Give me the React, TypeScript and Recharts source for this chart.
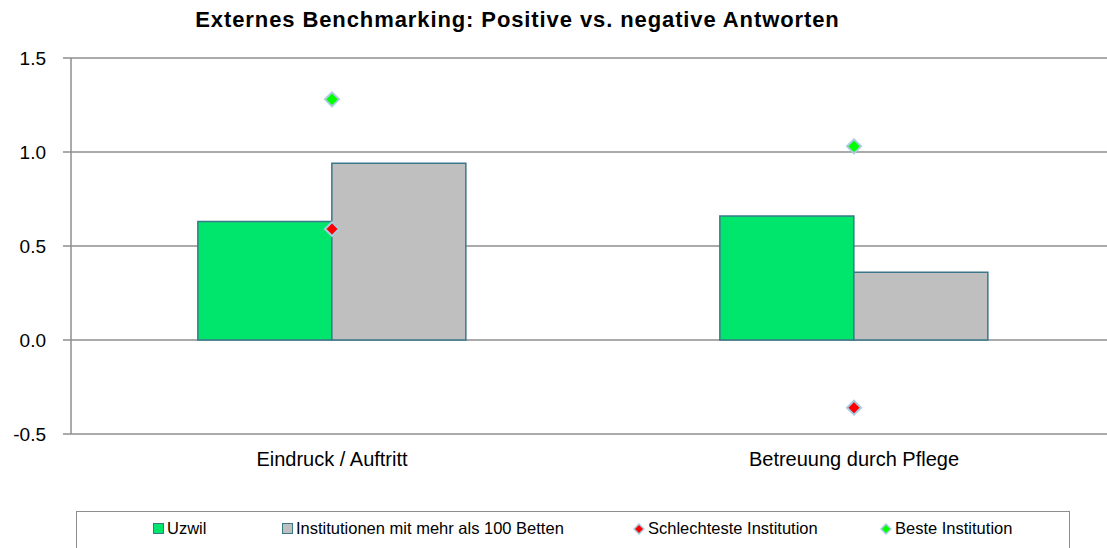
import {
  ComposedChart,
  Bar,
  Scatter,
  XAxis,
  YAxis,
  CartesianGrid,
  ReferenceLine,
} from 'recharts';

const categories = ['Eindruck / Auftritt', 'Betreuung durch Pflege'];
const uzwil = [0.63, 0.66];
const institutionen = [0.94, 0.36];
const schlechteste = [0.59, -0.36];
const beste = [1.28, 1.03];
const yTicks = [-0.5, 0, 0.5, 1.0, 1.5];

const data = categories.map((name, i) => ({
  name,
  uzwil: uzwil[i],
  institutionen: institutionen[i],
  schlechteste: schlechteste[i],
  beste: beste[i],
}));

const FONT = "'Liberation Sans', Arial, sans-serif";
const GRID = '#8e8e8e';
const BAR_STROKE = '#3a7889';

const Diamond = (props: any) => {
  const { cx, cy, fill } = props;
  if (cx == null || cy == null) return null;
  const r = 7;
  return (
    <polygon
      points={`${cx},${cy - r} ${cx + r},${cy} ${cx},${cy + r} ${cx - r},${cy}`}
      fill={fill}
      stroke="#a9cbe0"
      strokeWidth={2}
    />
  );
};

const legendItems = [
  { label: 'Uzwil', color: '#00e56b', kind: 'square', left: 76 },
  { label: 'Institutionen mit mehr als 100 Betten', color: '#bfbfbf', kind: 'square', left: 205 },
  { label: 'Schlechteste Institution', color: '#ff0000', kind: 'diamond', left: 556 },
  { label: 'Beste Institution', color: '#00ff00', kind: 'diamond', left: 803 },
];

export default function App() {
  return (
    <div
      style={{
        position: 'absolute',
        left: 0,
        top: 0,
        width: 1107,
        height: 548,
        overflow: 'hidden',
        background: '#fff',
        fontFamily: FONT,
      }}
    >
      {/* title */}
      <div
        style={{
          position: 'absolute',
          top: 7,
          left: 0,
          width: 1035,
          textAlign: 'center',
          fontWeight: 'bold',
          fontSize: 22,
          letterSpacing: 0.9,
          color: '#000',
        }}
      >
        Externes Benchmarking: Positive vs. negative Antworten
      </div>

      <div style={{ position: 'absolute', left: 0, top: 0 }}>
        <ComposedChart
          width={1160}
          height={480}
          data={data}
          margin={{ top: 58, right: 45, bottom: 0, left: 0 }}
          barCategoryGap="24.3%"
          barGap={0}
        >
          <CartesianGrid vertical={false} stroke={GRID} strokeWidth={1.5} />
          <XAxis
            dataKey="name"
            height={46}
            axisLine={false}
            tickLine={false}
            tickSize={0}
            tickMargin={18}
            tick={{ fill: '#000', fontSize: 20, fontFamily: FONT }}
          />
          <XAxis xAxisId="num" type="number" domain={[0, 2]} hide />
          <YAxis
            width={71}
            domain={[-0.5, 1.5]}
            ticks={yTicks}
            interval={0}
            tickFormatter={(v: number) => v.toFixed(1)}
            axisLine={{ stroke: GRID, strokeWidth: 1.5 }}
            tickLine={{ stroke: GRID, strokeWidth: 1.5 }}
            tickSize={8}
            tickMargin={17}
            tick={{ fill: '#000', fontSize: 19, fontFamily: FONT }}
          />
          <ReferenceLine
            xAxisId="num"
            segment={[
              { x: 1, y: 0 },
              { x: 1, y: -0.045 },
            ]}
            stroke={GRID}
            strokeWidth={2}
          />
          <Bar
            dataKey="uzwil"
            fill="#00e56b"
            stroke={BAR_STROKE}
            strokeWidth={1.5}
            isAnimationActive={false}
          />
          <Bar
            dataKey="institutionen"
            fill="#bfbfbf"
            stroke={BAR_STROKE}
            strokeWidth={1.5}
            isAnimationActive={false}
          />
          <Scatter
            dataKey="schlechteste"
            fill="#ff0000"
            shape={<Diamond />}
            isAnimationActive={false}
          />
          <Scatter
            dataKey="beste"
            fill="#00ff00"
            shape={<Diamond />}
            isAnimationActive={false}
          />
        </ComposedChart>
      </div>

      {/* legend */}
      <div
        style={{
          position: 'absolute',
          left: 76,
          top: 511,
          width: 994,
          height: 44,
          border: `1.5px solid ${GRID}`,
          boxSizing: 'border-box',
        }}
      >
        {legendItems.map((it) => (
          <div
            key={it.label}
            style={{
              position: 'absolute',
              left: it.left,
              top: 7,
              display: 'flex',
              alignItems: 'center',
              fontSize: 16.5,
              color: '#000',
              whiteSpace: 'nowrap',
            }}
          >
            {it.kind === 'square' ? (
              <span
                style={{
                  display: 'inline-block',
                  width: 9,
                  height: 9,
                  background: it.color,
                  border: `1.5px solid ${BAR_STROKE}`,
                  marginRight: 3,
                }}
              />
            ) : (
              <svg width={12} height={12} style={{ marginRight: 3 }}>
                <polygon points="6,1 11,6 6,11 1,6" fill={it.color} stroke="#a9cbe0" strokeWidth={1.5} />
              </svg>
            )}
            <span>{it.label}</span>
          </div>
        ))}
      </div>
    </div>
  );
}
